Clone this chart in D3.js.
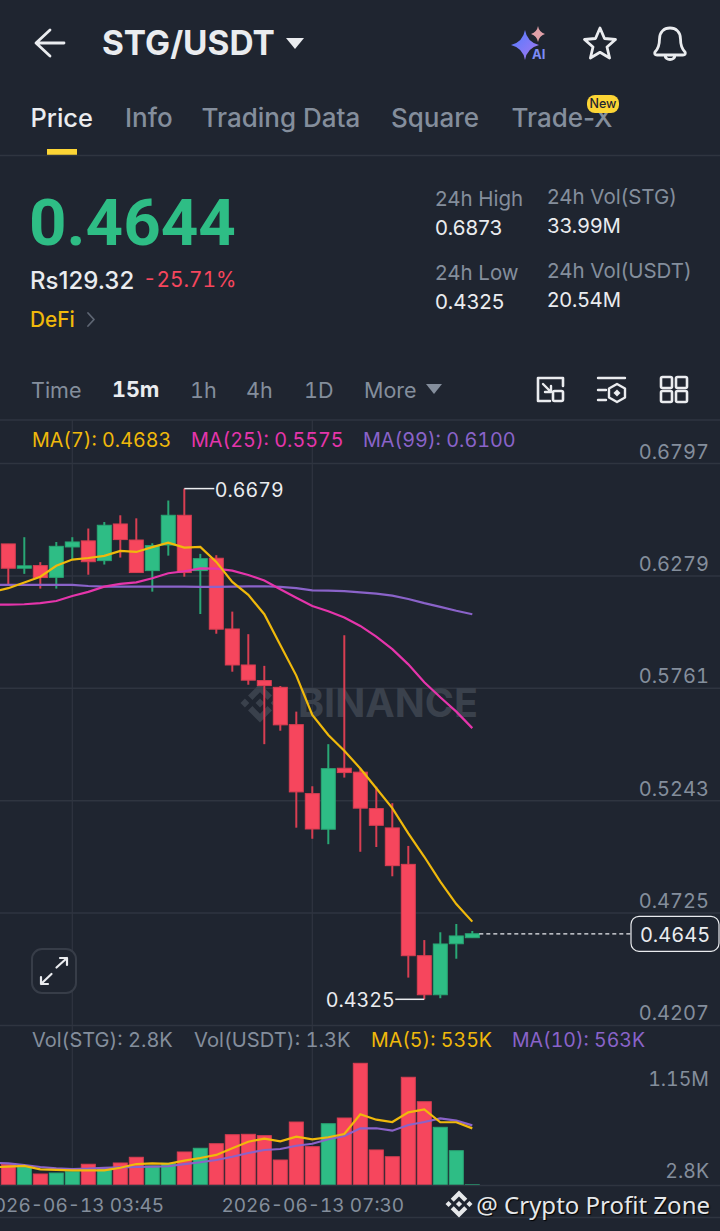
<!DOCTYPE html>
<html>
<head>
<meta charset="utf-8">
<script src="https://cdn.jsdelivr.net/npm/d3@7/dist/d3.min.js"></script>
<style>
    html, body { margin: 0; padding: 0; background: #1f2530; }
    svg { display: block; }
    text { font-family: Inter, "Noto Sans", sans-serif; }
    .tnum, .tick text { font-variant-numeric: tabular-nums; }
</style>
</head>
<body>
<div id="chart"></div>
<script>
// one candle per 15 minutes, the first time is only reached by the MA lines (off screen)
const times = ["02:30","02:45","03:00","03:15","03:30","03:45","04:00","04:15","04:30","04:45","05:00","05:15","05:30","05:45","06:00","06:15","06:30","06:45","07:00","07:15","07:30","07:45","08:00","08:15","08:30","08:45","09:00","09:15","09:30","09:45","10:00"];

const opens = [0.6424,0.6312,0.6324,0.6270,0.6410,0.6438,0.6347,0.6516,0.6442,0.6301,0.6419,0.6556,0.6301,0.6358,0.6032,0.5866,0.5794,0.5763,0.5591,0.5273,0.5109,0.5390,0.5372,0.5204,0.5115,0.4947,0.4526,0.4346,0.4581,0.4609];
const highs = [0.6424,0.6455,0.6340,0.6433,0.6455,0.6495,0.6525,0.6556,0.6542,0.6427,0.6624,0.6679,0.6378,0.6372,0.6112,0.6008,0.5862,0.5769,0.5651,0.5307,0.5501,0.6003,0.5390,0.5305,0.5229,0.5032,0.4598,0.4634,0.4672,0.4640];
const lows = [0.6235,0.6286,0.6218,0.6218,0.6350,0.6282,0.6329,0.6361,0.6292,0.6204,0.6370,0.6273,0.6101,0.6010,0.5835,0.5775,0.5501,0.5563,0.5116,0.5065,0.5040,0.5347,0.5005,0.5027,0.4892,0.4425,0.4325,0.4330,0.4512,0.4609];
const closes = [0.6312,0.6323,0.6269,0.6413,0.6433,0.6342,0.6510,0.6444,0.6292,0.6416,0.6556,0.6292,0.6356,0.6031,0.5866,0.5796,0.5771,0.5590,0.5281,0.5110,0.5388,0.5370,0.5206,0.5127,0.4941,0.4526,0.4346,0.4580,0.4617,0.4627];
const volumes = [196,173,104,113,126,196,161,208,262,180,205,312,347,390,475,479,466,236,595,362,579,633,1150,331,267,1018,787,545,324,2.8];

const ma7 = [0.6203,0.6220,0.6246,0.6273,0.6323,0.6352,0.6359,0.6369,0.6392,0.6387,0.6409,0.6430,0.6407,0.6410,0.6341,0.6249,0.6189,0.6100,0.5958,0.5817,0.5636,0.5543,0.5471,0.5389,0.5298,0.5206,0.5090,0.4982,0.4867,0.4764,0.4683];
const ma25 = [0.6145,0.6144,0.6146,0.6151,0.6161,0.6184,0.6203,0.6227,0.6240,0.6247,0.6266,0.6289,0.6298,0.6311,0.6310,0.6301,0.6281,0.6255,0.6215,0.6176,0.6138,0.6114,0.6085,0.6046,0.5997,0.5939,0.5869,0.5786,0.5717,0.5651,0.5575];
const ma99 = [0.6235,0.6235,0.6235,0.6235,0.6235,0.6235,0.6230,0.6227,0.6227,0.6227,0.6227,0.6227,0.6227,0.6226,0.6226,0.6227,0.6228,0.6229,0.6226,0.6220,0.6210,0.6209,0.6206,0.6201,0.6195,0.6186,0.6170,0.6151,0.6134,0.6116,0.6100];
const volMa5 = [167,173,180,148,142,139,139,139,163,198,205,201,230,255,284,347,409,438,413,456,432,451,482,668,617,595,687,715,593,593,535];
const volMa10 = [211,205,189,170,158,151,154,161,167,170,173,177,198,215,236,267,302,331,340,371,390,432,463,536,536,513,567,595,630,608,563];

const priceTicks = [0.6797,0.6279,0.5761,0.5243,0.4725,0.4207];
const volTicks = [1150,2.8];
const volTickLabels = ["1.15M","2.8K"];
const timeTicks = ["03:45","07:30"];
const lastPrice = 0.4627;

const width = 720;
const height = 1231;

const gray = "#848e9c";
const white = "#eaecef";
const red = "#f6465d";
const green = "#2ebd85";
const yellow = "#f0b90b";
const pink = "#e535ab";
const purple = "#8a63c9";
const gridColor = "#2f3540";

const svg = d3.select("#chart")
    .append("svg")
    .attr("width", width)
    .attr("height", height)
    .attr("viewBox", `0 0 ${width} ${height}`);

// scales
const x = d3.scalePoint().domain(times).range([-7.7, 472.3]);
const y = d3.scaleLinear().domain([0.4207, 0.6797]).range([1024.9, 463]);
const yVol = d3.scaleLinear().domain([0, 1150]).range([1185, 1063.3]);

function label(txt, px, py, size, color, opts = {}) {
    return svg.append("text")
        .attr("class", opts.tnum ? "tnum" : null)
        .attr("x", px)
        .attr("y", py)
        .attr("font-size", size)
        .attr("fill", color)
        .attr("font-weight", opts.weight || 400)
        .attr("text-anchor", opts.anchor || "start")
        .text(txt);
}

function hline(y0, x0 = 0, x1 = width) {
    svg.append("line").attr("x1", x0).attr("x2", x1).attr("y1", y0).attr("y2", y0)
        .attr("stroke", gridColor).attr("stroke-width", 1.5);
}

function binanceLogo(cx, cy, size, fill) {
    const s = size / 126.61;
    svg.append("path")
        .attr("transform", `translate(${cx - size / 2},${cy - size / 2}) scale(${s})`)
        .attr("fill", fill)
        .attr("d", "M38.73 53.2l24.59-24.58 24.6 24.6 14.3-14.31L63.32 0 24.42 38.9l14.31 14.3zM0 63.31l14.3-14.31 14.31 14.31-14.31 14.3zM38.73 73.41l24.59 24.59 24.6-24.6 14.31 14.29-38.9 38.91-38.91-38.88v-.03l14.31-14.28zM98 63.31l14.3-14.31 14.31 14.3-14.31 14.32zM77.83 63.3L63.32 48.78 52.59 59.51l-1.24 1.23-2.54 2.54 14.51 14.5 14.51-14.47z");
}

function iconPath(d, sw = 2.6, color = white, fill = "none") {
    return svg.append("path").attr("d", d).attr("fill", fill).attr("stroke", color)
        .attr("stroke-width", sw).attr("stroke-linecap", "round").attr("stroke-linejoin", "round");
}

// ---- header ----
iconPath("M37 43H64M50 30L36 43L50 56", 2.8);
label("STG/USDT", 102, 55, 33.4, white, {weight: 700});
svg.append("path").attr("d", "M286 38H304L295 49Z").attr("fill", white);

const grad = svg.append("defs").append("linearGradient").attr("id", "ai").attr("x1", 0).attr("x2", 1).attr("y1", 0).attr("y2", 1);
grad.append("stop").attr("offset", "0%").attr("stop-color", "#4f7cff");
grad.append("stop").attr("offset", "100%").attr("stop-color", "#a777f0");
svg.append("path").attr("d", "M525 30Q527 42 539 45Q527 48 525 60Q523 48 511 45Q523 42 525 30Z").attr("fill", "url(#ai)");
svg.append("path").attr("d", "M538 26Q539 32 545 34Q539 36 538 42Q537 36 531 34Q537 32 538 26Z").attr("fill", "#e0a0a8");
label("AI", 532, 59, 13, "#7d8cf5", {weight: 700});

iconPath("M600 28L604.500 38.500L615.500 39.500L607 47L609.600 58L600 52.300L590.400 58L593 47L584.500 39.500L595.500 38.500Z", 2.8);
iconPath("M655 52C659 48 659.500 44 659.500 39C659.500 32 664 28 670 28C676 28 680.500 32 680.500 39C680.500 44 681 48 685 52C686 54 685 55 683 55H657C655 55 654 54 655 52ZM665 55C665 61 675 61 675 55", 2.8);

// ---- tabs ----
label("Price", 30.5, 127, 25.4, white, {weight: 500});
label("Info", 125, 127, 26, gray, {weight: 500});
label("Trading Data", 201.5, 127, 26, gray, {weight: 500});
label("Square", 391, 127, 26, gray, {weight: 500});
label("Trade-X", 511.5, 127, 26, gray, {weight: 500});
svg.append("rect").attr("x", 587).attr("y", 95).attr("width", 32).attr("height", 18).attr("rx", 8).attr("fill", "#fcd535");
label("New", 603, 108, 12.5, "#1f2530", {weight: 500, anchor: "middle"});
svg.append("rect").attr("x", 47).attr("y", 149).attr("width", 30).attr("height", 6).attr("fill", "#fcd535");
hline(155.5);

// ---- price block ----
label("0.4644", 29, 245, 65.5, green, {weight: 700}).style("font-family", "Roboto");
label("Rs129.32", 30, 289, 24, white, {weight: 500});
label("-25.71%", 143, 287, 20.8, red, {tnum: true});
label("DeFi", 30, 327, 20.8, yellow, {weight: 500});
iconPath("M88 313L94 319.500L88 326", 1.8, "#5e6673");

label("24h High", 435, 206, 20.5, gray);
label("0.6873", 435, 235, 20.5, white);
label("24h Low", 435, 280, 20.5, gray);
label("0.4325", 435, 309, 20.5, white);
label("24h Vol(STG)", 547, 204, 20.5, gray);
label("33.99M", 547, 233, 20.3, white);
label("24h Vol(USDT)", 547, 278, 20.5, gray);
label("20.54M", 547, 307, 20.3, white);

// ---- interval row ----
label("Time", 31, 398, 21.5, gray);
label("15m", 112, 397, 21.5, white, {weight: 700, tnum: true});
label("1h", 190, 398, 21.5, gray, {tnum: true});
label("4h", 246, 398, 21.5, gray, {tnum: true});
label("1D", 304, 398, 21.5, gray, {tnum: true});
label("More", 364, 398, 21.5, gray);
svg.append("path").attr("d", "M426 384H442L434 394Z").attr("fill", gray);

iconPath("M563 386V378H538V401H550", 2.6);
iconPath("M543 384L551 392M551 386V392H545", 2.4);
svg.append("rect").attr("x", 553).attr("y", 391).attr("width", 10).attr("height", 10).attr("rx", 1.5).attr("fill", "none").attr("stroke", white).attr("stroke-width", 2.6);
iconPath("M598 378H625M598 390H606M598 400H606", 2.4);
iconPath("M617 384L625 388.500V397.500L617 402L609 397.500V388.500Z", 2.4);
svg.append("rect").attr("x", 614.500).attr("y", 390.500).attr("width", 5).attr("height", 5).attr("transform", "rotate(45 617 393)").attr("fill", white);
[[661, 377], [676, 377], [661, 391], [676, 391]].forEach(p => {
    svg.append("rect").attr("x", p[0]).attr("y", p[1]).attr("width", 11).attr("height", 11).attr("rx", 1.5)
        .attr("fill", "none").attr("stroke", white).attr("stroke-width", 2.6);
});

hline(420);

// ---- grid ----
svg.append("g")
    .selectAll("line")
    .data(timeTicks)
    .enter()
    .append("line")
    .attr("x1", d => x(d))
    .attr("x2", d => x(d))
    .attr("y1", 420)
    .attr("y2", 1185)
    .attr("stroke", gridColor)
    .attr("stroke-width", 1.2);

const yAxis = d3.axisRight(y)
    .tickValues(priceTicks)
    .tickSize(width)
    .tickFormat(d3.format(".4f"));

const yAxisG = svg.append("g").call(yAxis);
yAxisG.select(".domain").remove();
yAxisG.selectAll("line").attr("stroke", gridColor).attr("stroke-width", 1.5);
yAxisG.selectAll("text")
    .attr("x", 709)
    .attr("dy", -5)
    .attr("text-anchor", "end")
    .attr("fill", gray)
    .attr("font-size", 20)
    .attr("font-family", "Inter");

// watermark, under the candles
binanceLogo(260, 703, 39, "#3a414c");
label("BINANCE", 298, 717, 40, "#3a414c", {weight: 700})
    .attr("textLength", 180)
    .attr("lengthAdjust", "spacingAndGlyphs");

// ---- candles ----
const candleTimes = times.slice(1);
const candles = candleTimes.map((t, i) => ({time: t, open: opens[i], high: highs[i], low: lows[i], close: closes[i], volume: volumes[i]}));
const candleColor = d => d.close >= d.open ? green : red;
const edgeColor = d => d3.color(candleColor(d)).darker(0.35);
const bodyWidth = 14;

const candleG = svg.append("g");

candleG.selectAll("line")
    .data(candles)
    .enter()
    .append("line")
    .attr("x1", d => x(d.time))
    .attr("x2", d => x(d.time))
    .attr("y1", d => y(d.high))
    .attr("y2", d => y(d.low))
    .attr("stroke", edgeColor)
    .attr("stroke-width", 2);

candleG.selectAll("rect")
    .data(candles)
    .enter()
    .append("rect")
    .attr("x", d => x(d.time) - bodyWidth / 2)
    .attr("y", d => y(Math.max(d.open, d.close)))
    .attr("width", bodyWidth)
    .attr("height", d => Math.abs(y(d.open) - y(d.close)))
    .attr("fill", candleColor)
    .attr("stroke", edgeColor)
    .attr("stroke-width", 1);

// ---- moving averages ----
const line = d3.line()
    .x((d, i) => x(times[i]))
    .y(d => y(d));

[[ma99, purple], [ma25, pink], [ma7, yellow]].forEach(s => {
    svg.append("path")
        .attr("d", line(s[0]))
        .attr("fill", "none")
        .attr("stroke", s[1])
        .attr("stroke-width", 2.2);
});

// high / low markers
const hi = candles[d3.maxIndex(highs)];
const lo = candles[d3.minIndex(lows)];

svg.append("line").attr("x1", x(hi.time)).attr("x2", x(hi.time) + 30).attr("y1", y(hi.high)).attr("y2", y(hi.high)).attr("stroke", white).attr("stroke-width", 1.5);
label(d3.format(".4f")(hi.high), x(hi.time) + 30.5, y(hi.high) + 8, 19.6, white, {tnum: true});

svg.append("line").attr("x1", x(lo.time)).attr("x2", x(lo.time) - 29).attr("y1", y(lo.low)).attr("y2", y(lo.low)).attr("stroke", white).attr("stroke-width", 1.5);
label(d3.format(".4f")(lo.low), x(lo.time) - 29.5, y(lo.low) + 8, 19.7, white, {anchor: "end", tnum: true});

// last price
svg.append("line")
    .attr("x1", x(candleTimes[candleTimes.length - 1]) + 7)
    .attr("x2", 631)
    .attr("y1", y(lastPrice))
    .attr("y2", y(lastPrice))
    .attr("stroke", white)
    .attr("stroke-width", 1.2)
    .attr("stroke-dasharray", "4 3");
svg.append("rect").attr("x", 631).attr("y", y(lastPrice) - 17.500).attr("width", 88).attr("height", 35).attr("rx", 8)
    .attr("fill", "#1f2530").attr("stroke", white).attr("stroke-width", 1.2);
label("0.4645", 675, y(lastPrice) + 8, 20, white, {anchor: "middle", tnum: true});

// expand button
svg.append("rect").attr("x", 32).attr("y", 949).attr("width", 44).attr("height", 44).attr("rx", 10).attr("fill", "#1f2530").attr("stroke", "#373d48").attr("stroke-width", 2);
iconPath("M56.500 967.500L67 958M60 958H67V965M51.500 974L41 984M41 977V984H48", 2.2);

// MA legend
label("MA(7): 0.4683", 32, 447, 19.7, yellow, {tnum: true});
label("MA(25): 0.5575", 191, 447, 19.8, pink, {tnum: true});
label("MA(99): 0.6100", 363, 447, 19.8, purple, {tnum: true});

// ---- volume pane ----
label("Vol(STG): 2.8K", 32, 1047, 20, gray, {tnum: true});
label("Vol(USDT): 1.3K", 194, 1047, 20.2, gray, {tnum: true});
label("MA(5): 535K", 371, 1047, 19.6, yellow, {tnum: true});
label("MA(10): 563K", 512, 1047, 19.5, purple, {tnum: true});

svg.append("g")
    .selectAll("rect")
    .data(candles)
    .enter()
    .append("rect")
    .attr("x", d => x(d.time) - bodyWidth / 2)
    .attr("y", d => yVol(d.volume))
    .attr("width", bodyWidth)
    .attr("height", d => yVol(0) - yVol(d.volume))
    .attr("fill", candleColor)
    .attr("stroke", edgeColor)
    .attr("stroke-width", 1);

const volLine = d3.line()
    .x((d, i) => x(times[i]))
    .y(d => yVol(d));

[[volMa10, purple], [volMa5, yellow]].forEach(s => {
    svg.append("path")
        .attr("d", volLine(s[0]))
        .attr("fill", "none")
        .attr("stroke", s[1])
        .attr("stroke-width", 2.2);
});

const volAxis = d3.axisLeft(yVol)
    .tickValues(volTicks)
    .tickSize(0)
    .tickFormat((d, i) => volTickLabels[i]);

const volAxisG = svg.append("g").attr("transform", "translate(709,0)").call(volAxis);
volAxisG.select(".domain").remove();
volAxisG.selectAll("text")
    .attr("x", 0)
    .attr("dy", (d, i) => i === 0 ? 22 : -7)
    .attr("text-anchor", "end")
    .attr("fill", gray)
    .attr("font-size", 19.5)
    .attr("font-family", "Inter");

hline(1185.5);

// ---- time axis ----
const timeAxis = d3.axisBottom(x)
    .tickValues(timeTicks)
    .tickSize(0)
    .tickFormat(d => `2026-06-13 ${d}`);

const timeAxisG = svg.append("g").attr("transform", "translate(0,1186)").call(timeAxis);
timeAxisG.select(".domain").remove();
timeAxisG.selectAll("text")
    .attr("y", 26)
    .attr("dy", 0)
    .attr("fill", gray)
    .attr("font-size", 19)
    .attr("font-family", "Inter");

hline(1217.5);

// overlay credit
binanceLogo(459, 1204, 27, "#e6e8ea");
label("@ Crypto Profit Zone", 710, 1214, 24, "#e6e8ea", {anchor: "end"})
    .style("font-family", "Noto Sans")
    .style("text-shadow", "1px 1px 1px #000");
</script>
</body>
</html>
